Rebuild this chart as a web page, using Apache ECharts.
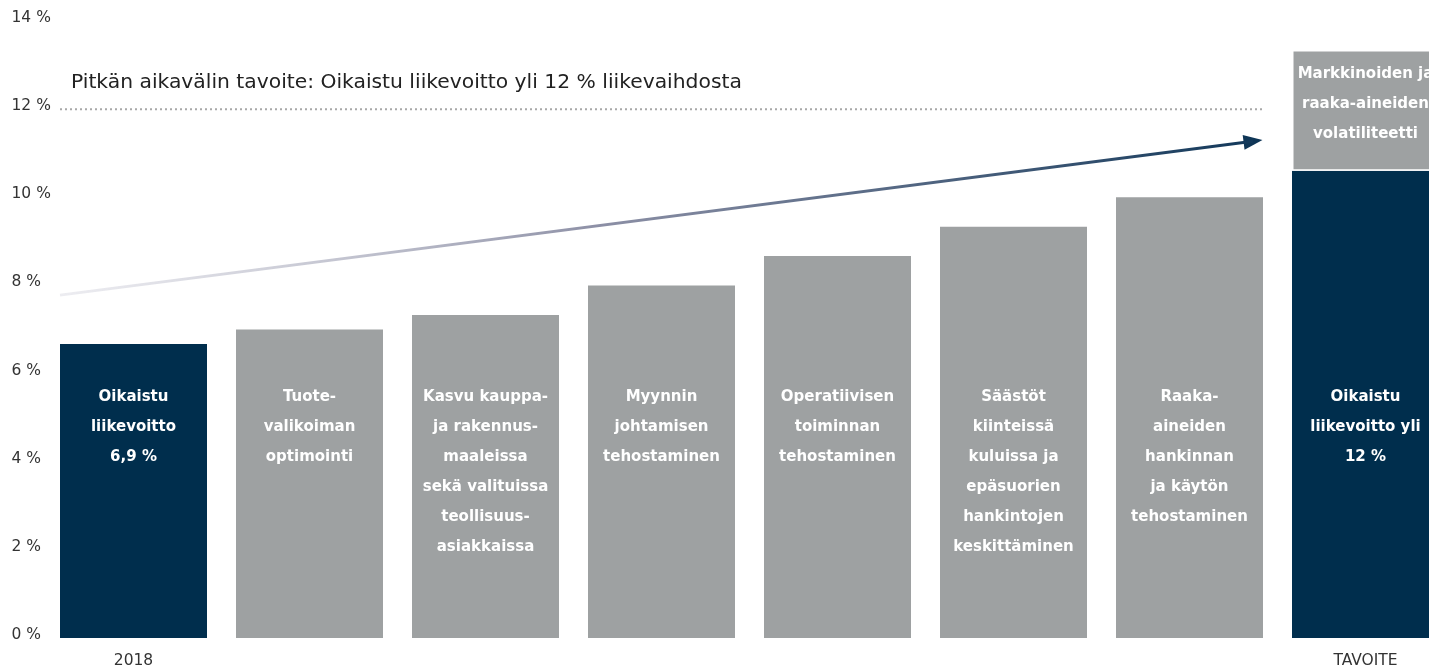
<!DOCTYPE html>
<html>
<head>
<meta charset="utf-8">
<script src="https://cdn.jsdelivr.net/npm/echarts@6/dist/echarts.min.js"></script>
<style>
  html, body { margin: 0; padding: 0; background: #fff; }
  #chart { width: 1429px; height: 670px; }
</style>
</head>
<body>
<div id="chart"></div>
<script>
// data
const categories = ['2018', '', '', '', '', '', '', 'TAVOITE'];
const baseValues = [6.67, 7.0, 7.33, 8.0, 8.67, 9.33, 10.0, 10.6];
const volatilityValues = [null, null, null, null, null, null, null, 2.74];
const barLabels = [
  'Oikaistu\nliikevoitto\n6,9 %',
  'Tuote-\nvalikoiman\noptimointi',
  'Kasvu kauppa-\nja rakennus-\nmaaleissa\nsekä valituissa\nteollisuus-\nasiakkaissa',
  'Myynnin\njohtamisen\ntehostaminen',
  'Operatiivisen\ntoiminnan\ntehostaminen',
  'Säästöt\nkiinteissä\nkuluissa ja\nepäsuorien\nhankintojen\nkeskittäminen',
  'Raaka-\naineiden\nhankinnan\nja käytön\ntehostaminen',
  'Oikaistu\nliikevoitto yli\n12 %'
];
const volatilityLabel = 'Markkinoiden ja\nraaka-aineiden\nvolatiliteetti';
const targetLine = [[-0.4176, 12], [6.4176, 12]];
const arrowLine = [[-0.4176, 7.78], [6.361, 11.274]];
const arrowHead = [[6.361, 11.274]];
const titleText = 'Pitkän aikavälin tavoite: Oikaistu liikevoitto yli 12 % liikevaihdosta';

const NAVY = '#002e4d';
const GRAY = '#9ea1a2';
const LABEL_Y = 5.81;

const chart = echarts.init(document.getElementById('chart'));

const option = {
  animation: false,
  textStyle: { fontFamily: 'DejaVu Sans' },
  title: {
    text: titleText,
    left: 66,
    top: 68,
    textStyle: { fontFamily: 'DejaVu Sans', fontSize: 20.3, fontWeight: 'normal', color: '#222' }
  },
  // the last bar runs past the right edge, so the grid is wider than the page
  grid: { left: 45.5, width: 1408, top: 21, bottom: 32, outerBoundsMode: 'none', containLabel: false },
  xAxis: [
    {
      type: 'category',
      data: categories,
      axisLine: { show: false },
      axisTick: { show: false },
      axisLabel: { color: '#333', fontSize: 15.5, margin: 15 }
    },
    { type: 'value', min: -0.5, max: 7.5, show: false }
  ],
  yAxis: {
    type: 'value',
    min: 0,
    max: 14,
    interval: 2,
    splitLine: { show: false },
    axisLine: { show: false },
    axisTick: { show: false },
    axisLabel: {
      formatter: '{value} %',
      align: 'left',
      verticalAlign: 'bottom',
      lineHeight: 6,
      margin: 34,
      color: '#333',
      fontSize: 15.5
    }
  },
  series: [
    {
      type: 'bar',
      stack: 'total',
      barWidth: 147,
      data: baseValues.map((v, i) => ({
        value: v,
        itemStyle: { color: (i === 0 || i === baseValues.length - 1) ? NAVY : GRAY }
      }))
    },
    {
      type: 'bar',
      stack: 'total',
      barWidth: 147,
      itemStyle: { color: GRAY, borderColor: '#fff', borderWidth: 1.5 },
      label: {
        show: true,
        position: 'insideTop',
        distance: 9,
        formatter: () => volatilityLabel,
        color: '#fff',
        fontFamily: 'DejaVu Sans',
        fontWeight: 'bold',
        fontSize: 15,
        lineHeight: 30,
        align: 'center'
      },
      data: volatilityValues
    },
    {
      type: 'scatter',
      symbolSize: 0,
      silent: true,
      itemStyle: { opacity: 1 },
      label: {
        show: true,
        position: 'bottom',
        distance: 0,
        formatter: p => barLabels[p.dataIndex],
        color: '#fff',
        fontFamily: 'DejaVu Sans',
        fontWeight: 'bold',
        fontSize: 15,
        lineHeight: 30,
        align: 'center'
      },
      data: categories.map((c, i) => [i, LABEL_Y])
    },
    {
      type: 'line',
      xAxisIndex: 1,
      symbol: 'none',
      silent: true,
      lineStyle: { color: '#a8a8a8', width: 2, type: [2, 3] },
      data: targetLine
    },
    {
      type: 'line',
      xAxisIndex: 1,
      symbol: 'none',
      silent: true,
      lineStyle: {
        width: 3,
        color: new echarts.graphic.LinearGradient(0, 0, 1, 0, [
          { offset: 0, color: 'rgba(225,225,232,0.6)' },
          { offset: 0.45, color: '#8d90a6' },
          { offset: 1, color: '#12385a' }
        ])
      },
      data: arrowLine
    },
    {
      type: 'scatter',
      xAxisIndex: 1,
      silent: true,
      symbol: 'triangle',
      symbolSize: [15, 19],
      symbolRotate: -82.65,
      itemStyle: { color: '#0e3556', opacity: 1 },
      data: arrowHead
    }
  ]
};

chart.setOption(option);
</script>
</body>
</html>
